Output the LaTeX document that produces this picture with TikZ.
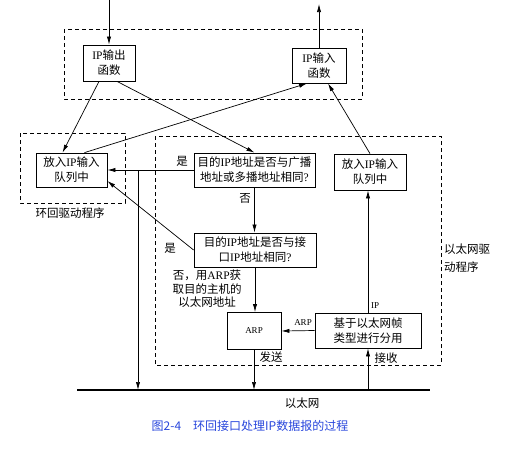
\documentclass[tikz,border=0pt]{standalone}
\usepackage{fontspec}
\setmainfont{Liberation Serif}
\newfontfamily\cjk{Noto Sans CJK SC}
\newcommand{\zh}[1]{{\cjk #1}}
\usetikzlibrary{arrows.meta,calc,positioning}
\definecolor{capblue}{RGB}{40,70,220}
\tikzset{
  box/.style={draw,line width=0.8pt,align=center,inner sep=1pt,font=\fontsize{11.5}{15}\selectfont},
  drv/.style={dash pattern=on 4pt off 3pt,line width=0.7pt},
  arr/.style={-{Latex[length=8pt,width=4.2pt]},line width=0.7pt},
  lbl/.style={inner sep=0pt,font=\fontsize{11.5}{14}\selectfont}
}
\begin{document}
\begin{tikzpicture}[x=1pt,y=-1pt]
\useasboundingbox (0,0) rectangle (516,448);
% driver frames
\draw[drv] (64,29) rectangle (362,99);
\draw[drv] (20,133) rectangle (125,203);
\draw[drv] (155,136) rectangle (441,365);
% boxes
\node[box,minimum width=52pt,minimum height=36pt] (out) at (109,63) {IP\zh{输出}\\\zh{函数}};
\node[box,minimum width=54pt,minimum height=35pt] (in) at (319,65.5) {IP\zh{输入}\\\zh{函数}};
\node[box,minimum width=71pt,minimum height=34pt] (loopq) at (71.5,170) {\zh{放入}IP\zh{输入}\\\zh{队列中}};
\node[box,minimum width=72pt,minimum height=36pt] (ethq) at (370,172) {\zh{放入}IP\zh{输入}\\\zh{队列中}};
\node[box,minimum width=121pt,minimum height=34pt] (bcast) at (254.5,170) {\zh{目的}IP\zh{地址是否与广播}\\\zh{地址或多播地址相同}?};
\node[box,minimum width=122pt,minimum height=34pt] (ucast) at (255,250) {\zh{目的}IP\zh{地址是否与接}\\\zh{口}IP\zh{地址相同}?};
\node[box,minimum width=54pt,minimum height=37pt,font=\fontsize{9}{11}\selectfont] (arp) at (254,331) {ARP};
\node[box,minimum width=106pt,minimum height=35pt] (demux) at (368,330.5) {\zh{基于以太网帧}\\\zh{类型进行分用}};
% ethernet
\coordinate (ethL) at (77,390);
\coordinate (ethR) at (430,390);
\coordinate (bcE) at (138,390);
\draw[line width=2.4pt] (ethL) -- (ethR);
% arrows
\coordinate (topin) at (109,0);
\coordinate (topout) at (319,4);
\draw[arr] (topin) -- (out.north);
\draw[arr] (in.north) -- (topout);
\draw[arr] ($(out.south)+(-10,0)$) -- ($(loopq.north)+(-9,0)$);
\draw[arr] ($(out.south)+(8,0)$) -- (bcast.north);
\draw[arr] ($(loopq.north)+(13,0)$) -- ($(in.south)+(-12,0)$);
\draw[arr] (ethq.north) -- ($(in.south)+(9,0)$);
\draw[arr] (bcast.west) -- (loopq.east);
\draw[arr] (bcast.west) -| (bcE);
\draw[arr] (ucast.west) -- (loopq.-17);
\draw[arr] (bcast.south) -- (bcast.south |- ucast.north);
\draw[arr] (ucast.south) -- (ucast.south |- arp.north);
\draw[arr] (arp.south) -- (arp.south |- ethL);
\draw[arr] (demux.west) -- (arp.east);
\draw[arr] (demux.south |- ethL) -- (demux.south);
\draw[arr] (demux.north) -- (demux.north |- ethq.south);
% labels
\node[lbl] (yes1) at (182,161) {\zh{是}};
\node[lbl] (yes2) at (170,248) {\zh{是}};
\node[lbl] (no1) at (245,198) {\zh{否}};
\node[lbl,align=center,font=\fontsize{11.5}{13.5}\selectfont] (noarp) at (207,289) {\zh{否，用}ARP\zh{获}\\\zh{取目的主机的}\\\zh{以太网地址}};
\node[lbl,font=\fontsize{9}{11}\selectfont] (arplbl) at (303,323) {ARP};
\node[lbl,font=\fontsize{9}{11}\selectfont] (iplbl) at (375,306) {IP};
\node[lbl] (send) at (271,357) {\zh{发送}};
\node[lbl] (recv) at (386,358) {\zh{接收}};
\node[lbl] (ether) at (302,403) {\zh{以太网}};
\node[lbl] (loopdrv) at (70,213) {\zh{环回驱动程序}};
\node[lbl,align=left,anchor=west,font=\fontsize{11.5}{18}\selectfont] (ethdrv) at (444,258) {\zh{以太网驱}\\\zh{动程序}};
\node[lbl,text=capblue,font=\cjk\fontsize{12}{14}\selectfont] (cap) at (250,426) {图2-4\quad 环回接口处理IP数据报的过程};
\end{tikzpicture}
\end{document}
